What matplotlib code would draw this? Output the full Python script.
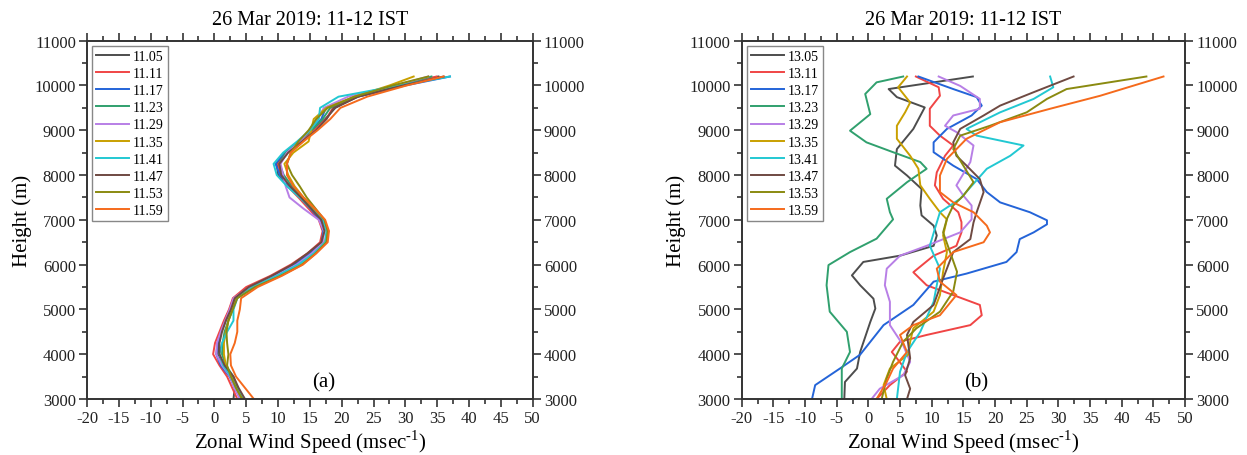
import matplotlib
matplotlib.use('Agg')
import matplotlib.pyplot as plt
from matplotlib.ticker import MultipleLocator

plt.rcParams['font.family'] = ['Liberation Serif', 'DejaVu Serif']
plt.rcParams['mathtext.fontset'] = 'custom'
plt.rcParams['mathtext.rm'] = 'Liberation Serif'
plt.rcParams['axes.unicode_minus'] = False

TITLE = '26 Mar 2019: 11-12 IST'
COLORS = ['#4d4d4d', '#f04545', '#2464d8', '#30a06e', '#b87fe6',
          '#c9a000', '#22c8d2', '#6f4a42', '#8a8a10', '#f56a1c']

# ---- panel (a): common height grid
heightsA = [3000, 3250, 3500, 3750, 4000, 4250, 4500, 4750, 5000, 5250,
            5500, 5750, 6000, 6250, 6500, 6750, 7000, 7250, 7500, 7750,
            8000, 8250, 8500, 8750, 9000, 9250, 9500, 9750, 10000, 10200]
labelsA = ['11.05', '11.11', '11.17', '11.23', '11.29',
           '11.35', '11.41', '11.47', '11.53', '11.59']
u1105 = [3.0, 3.2, 2.8, 1.5, 0.6, 0.6, 1.0, 1.6, 2.4, 3.0, 5.5, 9.3, 12.5, 14.8, 16.8,
         17.2, 16.6, 15.0, 13.4, 11.6, 10.0, 9.8, 11.2, 13.6, 15.5, 17.4, 19.0, 22.5, 29.5, 35.2]
u1111 = [3.6, 2.8, 2.0, 0.8, -0.2, 0.1, 0.8, 1.5, 2.3, 2.9, 5.0, 8.8, 12.0, 14.6, 16.6,
         17.0, 16.4, 14.8, 13.2, 11.5, 10.4, 10.0, 11.4, 13.6, 15.6, 17.6, 18.6, 22.0, 28.8, 34.9]
u1117 = [4.2, 3.2, 2.4, 1.0, 0.3, 0.5, 1.1, 1.8, 2.5, 3.2, 5.6, 9.4, 12.7, 15.1, 16.9,
         17.1, 16.6, 15.1, 13.5, 11.8, 10.3, 9.6, 11.0, 13.2, 15.2, 16.8, 17.5, 22.5, 30.0, 37.0]
u1123 = [4.6, 3.6, 3.0, 1.8, 1.2, 1.3, 1.6, 2.2, 2.9, 3.5, 6.4, 10.2, 13.6, 15.8, 17.6,
         17.9, 17.2, 15.4, 13.8, 12.2, 10.9, 10.2, 11.2, 13.3, 15.3, 17.0, 18.2, 22.0, 28.8, 34.1]
u1129 = [4.0, 3.1, 2.5, 1.2, 0.3, 0.4, 1.0, 1.7, 2.4, 3.0, 5.6, 9.6, 12.9, 15.3, 17.1,
         17.2, 16.4, 14.0, 11.8, 11.2, 10.8, 10.4, 11.4, 13.4, 15.0, 16.2, 17.2, 21.0, 28.4, 33.6]
u1135 = [4.4, 3.4, 2.7, 1.8, 1.5, 1.5, 1.8, 2.2, 2.8, 3.4, 6.2, 10.2, 13.6, 15.8, 17.4,
         17.7, 17.1, 15.6, 14.0, 12.6, 11.6, 11.0, 12.4, 14.8, 15.2, 15.6, 17.6, 22.0, 27.5, 31.3]
u1141 = [4.8, 3.4, 2.6, 1.4, 0.8, 1.2, 2.0, 3.0, 3.0, 3.6, 6.0, 9.8, 13.2, 15.6, 17.4,
         17.6, 17.0, 15.2, 13.4, 11.4, 9.8, 9.3, 10.8, 13.0, 15.0, 16.4, 16.6, 19.5, 29.0, 37.0]
u1147 = [4.8, 3.8, 3.0, 1.6, 0.8, 0.8, 1.2, 1.8, 2.6, 3.2, 5.4, 9.0, 12.2, 14.6, 16.8,
         17.3, 16.8, 15.2, 13.6, 11.9, 10.5, 10.2, 11.6, 13.8, 16.0, 17.6, 18.8, 22.6, 29.6, 36.0]
u1153 = [4.4, 3.4, 2.6, 2.0, 2.2, 2.0, 1.9, 2.2, 2.9, 3.6, 6.4, 10.4, 13.8, 15.9, 17.6,
         17.8, 17.3, 15.9, 14.5, 13.4, 12.2, 11.4, 12.0, 13.2, 14.8, 16.0, 17.8, 22.0, 28.0, 33.6]
u1159 = [6.2, 4.8, 3.4, 2.6, 2.5, 3.2, 3.6, 3.6, 4.0, 4.2, 6.8, 10.6, 13.9, 16.0, 17.8,
         18.0, 17.4, 15.8, 14.0, 12.4, 11.4, 11.4, 12.0, 14.0, 16.2, 18.2, 19.8, 24.0, 30.2, 36.0]
windA = [u1105, u1111, u1117, u1123, u1129, u1135, u1141, u1147, u1153, u1159]

# ---- panel (b): each profile read at its own heights
labelsB = ['13.05', '13.11', '13.17', '13.23', '13.29',
           '13.35', '13.41', '13.47', '13.53', '13.59']
h1305 = [3000, 3380, 3680, 4050, 4720, 5020, 5240, 5540, 5760, 6060, 6200, 6420, 6650, 6870,
         7100, 7320, 7690, 7990, 8210, 8580, 9030, 9510, 9740, 9920, 10200]
u1305 = [-3.8, -3.7, -1.8, -1.3, 0.3, 1.1, 0.8, -1.3, -2.6, -0.8, 5.0, 10.3, 10.8, 10.3,
         8.4, 8.2, 8.4, 6.1, 4.2, 4.5, 7.1, 8.9, 4.5, 3.2, 16.5]
h1311 = [3000, 3310, 3610, 3910, 4050, 4280, 4430, 4650, 4870, 5100, 5320, 5540, 5830, 6200,
         6420, 6720, 6950, 7170, 7470, 7770, 8060, 8430, 8660, 8880, 9100, 9480, 9770, 9960, 10200]
u1311 = [1.3, 3.4, 6.1, 4.5, 3.7, 5.0, 9.2, 16.1, 17.9, 17.6, 13.4, 9.2, 7.1, 10.3,
         13.9, 14.7, 14.7, 14.2, 11.8, 10.5, 10.8, 12.1, 13.4, 11.3, 9.7, 9.7, 11.3, 11.1, 7.5]
h1317 = [3000, 3310, 3680, 3990, 4650, 5100, 5620, 5800, 6060, 6280, 6570, 6720, 6900, 6990,
         7170, 7390, 7620, 7910, 8210, 8510, 8730, 9030, 9330, 9550, 9740, 9920, 10200]
u1317 = [-8.9, -8.4, -4.5, -1.3, 2.4, 7.1, 10.3, 15.5, 21.8, 23.4, 23.9, 26.1, 28.2, 28.2,
         25.5, 20.8, 18.7, 17.1, 13.4, 10.3, 10.3, 12.4, 16.3, 17.9, 17.1, 13.4, 7.9]
h1323 = [3000, 3680, 4050, 4500, 4950, 5540, 5990, 6280, 6580, 7010, 7170, 7470, 7840, 8140,
         8290, 8510, 8730, 8990, 9360, 9810, 10070, 10200]
u1323 = [-4.2, -4.2, -2.9, -3.4, -6.1, -6.6, -6.3, -2.9, 1.3, 3.9, 3.4, 2.9, 6.1, 9.2,
         8.2, 3.9, -0.3, -2.9, 0.3, -0.5, 1.3, 5.5]
h1329 = [3000, 3230, 3530, 3830, 4200, 4650, 5170, 5540, 5910, 6200, 6420, 6720, 7010, 7320,
         7540, 7770, 8290, 8660, 8960, 9100, 9330, 9480, 9700, 9990, 10200]
u1329 = [0.5, 1.8, 5.5, 6.6, 5.5, 3.4, 3.4, 2.6, 2.9, 5.0, 9.2, 14.5, 16.3, 16.3,
         15.0, 13.9, 16.1, 16.6, 13.9, 12.1, 13.4, 17.6, 17.6, 14.5, 11.1]
h1335 = [3000, 3310, 3680, 3990, 4280, 4580, 4950, 5320, 5840, 6280, 6650, 7010, 7170, 7470,
         7770, 8140, 8430, 8810, 9100, 9400, 9620, 9960, 10200]
u1335 = [2.9, 2.4, 3.4, 6.3, 6.6, 7.1, 10.3, 11.3, 11.8, 12.4, 11.8, 12.4, 11.3, 9.7,
         8.2, 7.9, 6.6, 4.5, 4.5, 5.8, 6.6, 4.7, 6.1]
h1341 = [3000, 3610, 4050, 4500, 5170, 5910, 6420, 6800, 7170, 7470, 8140, 8430, 8660, 8880,
         9030, 9400, 9700, 9960, 10200]
u1341 = [4.5, 5.0, 6.1, 8.2, 10.3, 11.3, 9.7, 10.5, 11.3, 14.5, 18.7, 22.4, 24.5, 17.1,
         15.5, 20.8, 26.1, 29.2, 28.7]
h1347 = [3000, 3230, 3530, 3910, 4430, 4720, 5100, 5690, 6280, 6570, 6940, 7170, 7620, 7910,
         8210, 8430, 8730, 9030, 9330, 9550, 9850, 10200]
u1347 = [6.1, 6.6, 5.8, 6.6, 6.1, 7.1, 10.3, 11.8, 13.4, 16.1, 16.6, 17.1, 18.2, 17.6,
         15.5, 13.9, 13.4, 14.5, 18.2, 20.8, 26.1, 32.4]
h1353 = [3000, 3460, 3830, 4280, 4580, 4950, 5400, 5840, 6280, 6720, 7020, 7320, 7540, 7840,
         8210, 8580, 8880, 9100, 9400, 9700, 9920, 10200]
u1353 = [2.1, 2.9, 3.9, 5.5, 7.6, 11.3, 13.4, 14.0, 12.9, 11.8, 12.4, 13.4, 15.0, 16.6,
         15.0, 13.4, 14.5, 19.2, 25.0, 28.2, 31.3, 43.9]
h1359 = [3000, 3380, 3680, 4050, 4430, 4650, 4870, 5320, 5620, 5910, 6280, 6500, 6720, 6870,
         7170, 7390, 7620, 7990, 8360, 8810, 9180, 9480, 9770, 10200]
u1359 = [1.3, 2.9, 3.9, 6.1, 5.0, 7.1, 11.3, 13.9, 11.3, 10.8, 13.4, 18.2, 19.2, 18.7,
         16.6, 13.4, 11.3, 11.3, 12.4, 15.5, 20.8, 28.7, 36.6, 46.6]
heightsB = [h1305, h1311, h1317, h1323, h1329, h1335, h1341, h1347, h1353, h1359]
windB = [u1305, u1311, u1317, u1323, u1329, u1335, u1341, u1347, u1353, u1359]


def styleAxes(ax, tag):
    ax.set_xlim(-20, 50)
    ax.set_ylim(3000, 11000)
    ax.xaxis.set_major_locator(MultipleLocator(5))
    ax.xaxis.set_minor_locator(MultipleLocator(2.5))
    ax.yaxis.set_major_locator(MultipleLocator(1000))
    ax.yaxis.set_minor_locator(MultipleLocator(500))
    ax.tick_params(which='both', direction='out', top=True, right=True,
                   labelright=True, width=1.1, labelsize=12, colors='#222222', pad=2)
    ax.tick_params(which='major', length=6)
    ax.tick_params(which='minor', length=3.5)
    for s in ax.spines.values():
        s.set_linewidth(1.4)
        s.set_color('#333333')
    ax.set_title(TITLE, fontsize=14.5, pad=12)
    ax.set_xlabel('Zonal Wind Speed (msec$^{\\text{-1}}$)', fontsize=15, labelpad=1)
    ax.set_ylabel('Height (m)', fontsize=15, labelpad=2)
    ax.text(0.53, 0.02, tag, transform=ax.transAxes, ha='center', va='bottom', fontsize=15)
    leg = ax.legend(loc='upper left', fontsize=10, labelspacing=0.3, handlelength=2.4,
                    handletextpad=0.25, borderpad=0.3, borderaxespad=0.35, fancybox=False,
                    framealpha=1)
    leg.get_frame().set_edgecolor('#888888')
    leg.get_frame().set_linewidth(1.0)


fig = plt.figure(figsize=(12.47, 4.56), dpi=100)
axA = fig.add_axes([0.0698, 0.1228, 0.3574, 0.7858])
axB = fig.add_axes([0.5948, 0.1228, 0.3555, 0.7858])

for u, lab, c in zip(windA, labelsA, COLORS):
    axA.plot(u, heightsA, color=c, lw=1.4, label=lab, solid_joinstyle='round')
for h, u, lab, c in zip(heightsB, windB, labelsB, COLORS):
    axB.plot(u, h, color=c, lw=1.4, label=lab, solid_joinstyle='round')

styleAxes(axA, '(a)')
styleAxes(axB, '(b)')

fig.savefig('out.png', dpi=100)
